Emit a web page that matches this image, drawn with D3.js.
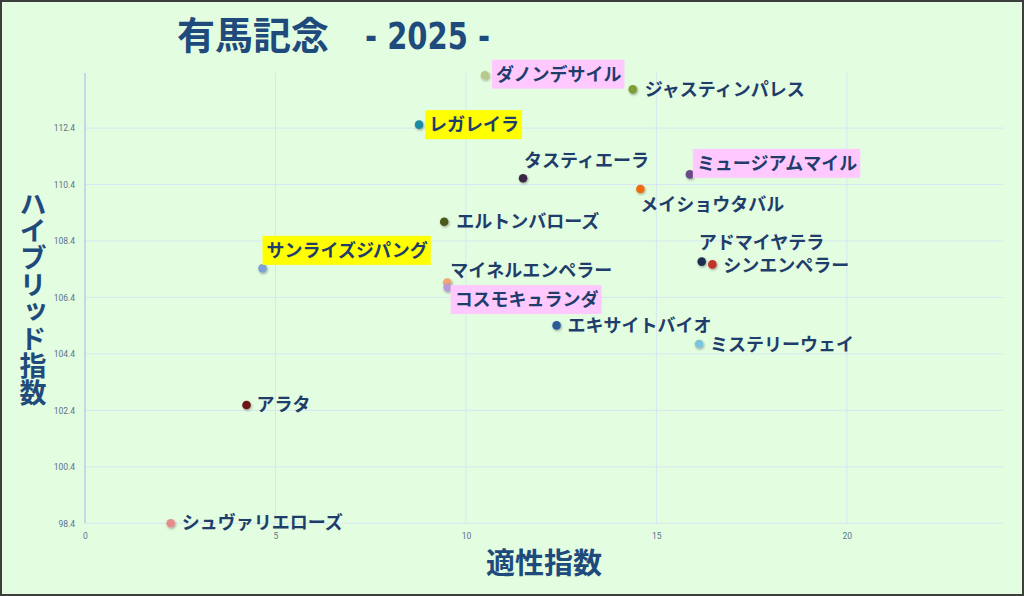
<!DOCTYPE html>
<html><head><meta charset="utf-8">
<script src="https://cdn.jsdelivr.net/npm/d3@7"></script>
<style>
html,body{margin:0;padding:0;background:#fff;}
svg{display:block;}
</style></head>
<body>
<svg id="chart" width="1024" height="596"></svg>
<script>
// ---- data ----
const horses = ["ダノンデサイル","ジャスティンパレス","レガレイラ","タスティエーラ","ミュージアムマイル","メイショウタバル","エルトンバローズ","サンライズジパング","マイネルエンペラー","コスモキュランダ","エキサイトバイオ","アドマイヤテラ","シンエンペラー","ミステリーウェイ","アラタ","シュヴァリエローズ"];
const aptitude = [10.50, 14.38, 8.77, 11.50, 15.88, 14.58, 9.43, 4.66, 9.51, 9.52, 12.38, 16.19, 16.47, 16.12, 4.24, 2.25];
const hybrid   = [114.27, 113.77, 112.52, 110.62, 110.76, 110.24, 109.08, 107.43, 106.93, 106.75, 105.41, 107.67, 107.57, 104.75, 102.59, 98.40];
const highlight = ["pink", null, "yellow", null, "pink", null, null, "yellow", null, "pink", null, null, null, null, null, null];
const xTicks = [0, 5, 10, 15, 20];
const yTicks = [98.4, 100.4, 102.4, 104.4, 106.4, 108.4, 110.4, 112.4];
const titleMain = "有馬記念";
const titleYear = "- 2025 -";
const xTitle = "適性指数";
const yTitle = "ハイブリッド指数";

// ---- styles / layout ----
const pointColors = ["#b7c98b","#7f9c3a","#1e8aa3","#3b2747","#6a4a88","#f26a0e","#4b5a1c","#7fa1d3","#f2a56e","#b79ad6","#2b5b9c","#1e2f52","#c0302b","#7cc3dc","#6b1414","#e58c8c"];
const labelOffset = [[11,-1],[12,0],[10,0],[1,-18],[7,-11],[0,15],[12,0],[4,-18],[3,-12],[7,12],[11,0],[-3,-19],[11,1],[11,0],[10,0],[11,-1]];
const bgColors = {pink:"#ffc9ff", yellow:"#ffff00"};

const svg = d3.select("#chart");
const W = 1024, H = 596;
svg.append("rect").attr("x",1).attr("y",1).attr("width",W-2).attr("height",H-2)
  .attr("fill","#e3fde0").attr("stroke","#3d3d3d").attr("stroke-width",2);

const x = d3.scaleLinear().domain([0, 24.1]).range([85, 1003]);
const y = d3.scaleLinear().domain([98.4, 114.35]).range([523.3, 73]);

const defs = svg.append("defs");
const f = defs.append("filter").attr("id","sh").attr("x","-50%").attr("y","-50%").attr("width","200%").attr("height","200%");
f.append("feDropShadow").attr("dx",0.8).attr("dy",1.2).attr("stdDeviation",1).attr("flood-color","#000").attr("flood-opacity",0.35);

// grid
const g = svg.append("g");
g.selectAll(".hg").data(yTicks).join("line")
  .attr("x1", x(0)).attr("x2", x(24.1))
  .attr("y1", d=>y(d)).attr("y2", d=>y(d))
  .attr("stroke","#d6e6f2").attr("stroke-width",1);
g.selectAll(".vg").data(xTicks.filter(d=>d>0)).join("line")
  .attr("x1", d=>x(d)).attr("x2", d=>x(d))
  .attr("y1", y(114.35)).attr("y2", y(98.4))
  .attr("stroke","#d6e6f2").attr("stroke-width",1);
g.append("line").attr("x1",x(0)).attr("x2",x(0)).attr("y1",y(114.35)).attr("y2",y(98.4))
  .attr("stroke","#a9c2f2").attr("stroke-width",1.2);

// axes via d3 axis
const yAxis = d3.axisLeft(y).tickValues(yTicks).tickFormat(d3.format(".1f")).tickSize(0).tickPadding(10);
const ya = svg.append("g").attr("transform",`translate(${x(0)},0)`).call(yAxis);
ya.select(".domain").remove();
ya.selectAll("text").attr("fill","#587292").attr("font-family","Roboto, sans-serif").attr("font-size",8.5);

const xAxis = d3.axisBottom(x).tickValues(xTicks).tickFormat(d3.format("d")).tickSize(0).tickPadding(10);
const xa = svg.append("g").attr("transform",`translate(0,${y(98.4)})`).call(xAxis);
xa.select(".domain").remove();
xa.selectAll("text").attr("fill","#587292").attr("font-family","Roboto, sans-serif").attr("font-size",8.5);

// titles
svg.append("text").attr("x",177).attr("y",49)
  .attr("font-family","'Noto Sans CJK JP', sans-serif").attr("font-weight","bold")
  .attr("font-size",38).attr("fill","#1f4a7c").text(titleMain);
svg.append("text").attr("x",365).attr("y",49)
  .attr("font-family","'DejaVu Sans Condensed','DejaVu Sans', sans-serif").attr("font-weight","bold")
  .attr("font-size",37).attr("fill","#1f4a7c")
  .attr("textLength",125).attr("lengthAdjust","spacingAndGlyphs").text(titleYear);

svg.append("text").attr("x",544).attr("y",574).attr("text-anchor","middle")
  .attr("font-family","'Noto Sans CJK JP', sans-serif").attr("font-weight","bold")
  .attr("font-size",29).attr("fill","#1f4a7c").text(xTitle);

svg.append("text").attr("x",33).attr("y",190)
  .attr("font-family","'Noto Sans CJK JP', sans-serif").attr("font-weight","bold")
  .attr("font-size",27).attr("fill","#1f4a7c")
  .style("writing-mode","vertical-rl").style("text-orientation","upright")
  .text(yTitle);

// points
const data = horses.map((n,i)=>({name:n, x:aptitude[i], y:hybrid[i], c:pointColors[i], hl:highlight[i], off:labelOffset[i]}));

const pts = svg.append("g");
pts.selectAll("circle").data(data).join("circle")
  .attr("cx", d=>x(d.x)).attr("cy", d=>y(d.y)).attr("r",4.3)
  .attr("fill", d=>d.c).attr("filter","url(#sh)");

// labels
const lg = svg.append("g");
data.forEach(d=>{
  const lx = x(d.x)+d.off[0], ly = y(d.y)+d.off[1];
  const grp = lg.append("g");
  const bg = grp.append("rect");
  const t = grp.append("text").attr("x",lx).attr("y",ly).attr("dy","0.36em")
    .attr("font-family","'Noto Sans CJK JP', sans-serif").attr("font-weight","bold")
    .attr("font-size",18).attr("fill","#1f3d6b").text(d.name);
  if (d.hl) {
    const bb = t.node().getBBox();
    bg.attr("x",bb.x-4).attr("y",ly-14.5).attr("width",bb.width+7).attr("height",29)
      .attr("fill",bgColors[d.hl]);
  } else bg.remove();
});
</script>
</body></html>
